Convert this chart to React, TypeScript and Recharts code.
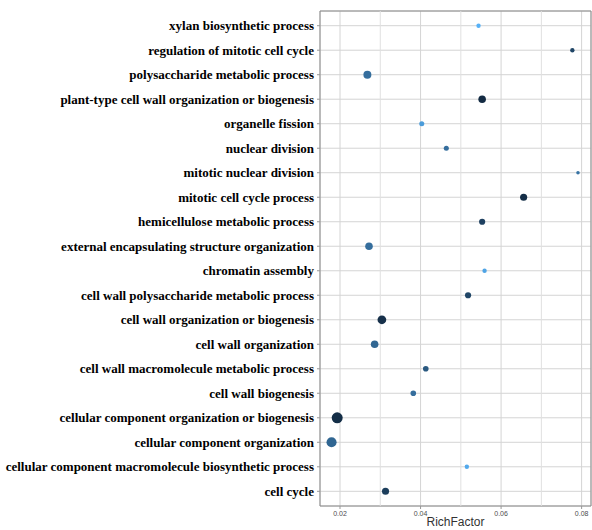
import { CartesianGrid, Cell, ReferenceArea, ReferenceLine, Scatter, ScatterChart, XAxis, YAxis, ZAxis } from "recharts";

// GO terms, top to bottom as shown
const terms = [
  "xylan biosynthetic process",
  "regulation of mitotic cell cycle",
  "polysaccharide metabolic process",
  "plant-type cell wall organization or biogenesis",
  "organelle fission",
  "nuclear division",
  "mitotic nuclear division",
  "mitotic cell cycle process",
  "hemicellulose metabolic process",
  "external encapsulating structure organization",
  "chromatin assembly",
  "cell wall polysaccharide metabolic process",
  "cell wall organization or biogenesis",
  "cell wall organization",
  "cell wall macromolecule metabolic process",
  "cell wall biogenesis",
  "cellular component organization or biogenesis",
  "cellular component organization",
  "cellular component macromolecule biosynthetic process",
  "cell cycle",
];

const richFactor = [
  0.0544, 0.0777, 0.0268, 0.0553, 0.0403, 0.0464, 0.0791, 0.0656, 0.0553, 0.0272,
  0.0559, 0.0518, 0.0304, 0.0286, 0.0413, 0.0382, 0.0193, 0.0179, 0.0515, 0.0313,
];

const counts = [3, 3, 10, 9, 4, 4, 2, 8, 6, 9, 3, 6, 12, 9, 5, 5, 19, 16, 3, 8];

const padj = [
  0.05, 0.01, 0.025, 0.0, 0.042, 0.025, 0.027, 0.001, 0.008, 0.025,
  0.045, 0.01, 0.002, 0.022, 0.017, 0.025, 0.001, 0.022, 0.047, 0.007,
];

const xTicks = [0.02, 0.04, 0.06, 0.08];
const xMinor = [0.03, 0.05, 0.07];

const data = terms.map((term, i) => ({ idx: i, term, rich: richFactor[i], count: counts[i], padj: padj[i] }));

const LOW = [0x13, 0x2b, 0x43];
const HIGH = [0x56, 0xb1, 0xf7];
function colorFor(p: number) {
  const t = Math.max(0, Math.min(1, p / 0.05));
  const c = LOW.map((l, k) => Math.round(l + (HIGH[k] - l) * t));
  return `rgb(${c[0]},${c[1]},${c[2]})`;
}

const X_DOMAIN: [number, number] = [0.01503, 0.08233];
const Y_DOMAIN: [number, number] = [-0.6, 19.6];

function TermTick({ x, y, payload }: any) {
  return (
    <text
      x={x - 1}
      y={y}
      dy={4.5}
      textAnchor="end"
      fontSize={13}
      fontWeight="bold"
      fill="#000"
      fontFamily="Liberation Serif, Times New Roman, serif"
    >
      {terms[payload.value] ?? ""}
    </text>
  );
}

export default function App() {
  return (
    <div style={{ position: "absolute", left: 0, top: 0, background: "#fff" }}>
      <ScatterChart width={592} height={530} margin={{ top: 11, right: 1, bottom: 0, left: 0 }}>
        <CartesianGrid stroke="#d4d4d4" strokeWidth={1} />
        {xMinor.map((v) => (
          <ReferenceLine key={v} x={v} stroke="#e0e0e0" strokeWidth={1} />
        ))}
        <XAxis
          type="number"
          dataKey="rich"
          domain={X_DOMAIN}
          ticks={xTicks}
          allowDataOverflow
          tickFormatter={(v: number) => v.toFixed(2)}
          tick={{ fontSize: 7, fill: "#4d4d4d", fontFamily: "Liberation Sans, Arial, sans-serif" }}
          tickSize={3}
          tickLine={{ stroke: "#999" }}
          axisLine={false}
          height={24}
          label={{ value: "RichFactor", position: "insideBottom", offset: 4, fontSize: 12, fill: "#333", fontFamily: "Liberation Sans, Arial, sans-serif" }}
        />
        <YAxis
          type="number"
          dataKey="idx"
          domain={Y_DOMAIN}
          ticks={terms.map((_, i) => i)}
          reversed
          allowDataOverflow
          interval={0}
          width={320}
          tick={<TermTick />}
          tickSize={3}
          tickLine={{ stroke: "#999" }}
          axisLine={false}
        />
        <ZAxis type="number" dataKey="count" domain={[0, 20]} range={[0, 100]} />
        <ReferenceArea x1={X_DOMAIN[0]} x2={X_DOMAIN[1]} y1={Y_DOMAIN[0]} y2={Y_DOMAIN[1]} fill="none" stroke="#8a8a8a" strokeWidth={1} />
        <Scatter data={data} isAnimationActive={false}>
          {data.map((d) => (
            <Cell key={d.term} fill={colorFor(d.padj)} />
          ))}
        </Scatter>
      </ScatterChart>
    </div>
  );
}
